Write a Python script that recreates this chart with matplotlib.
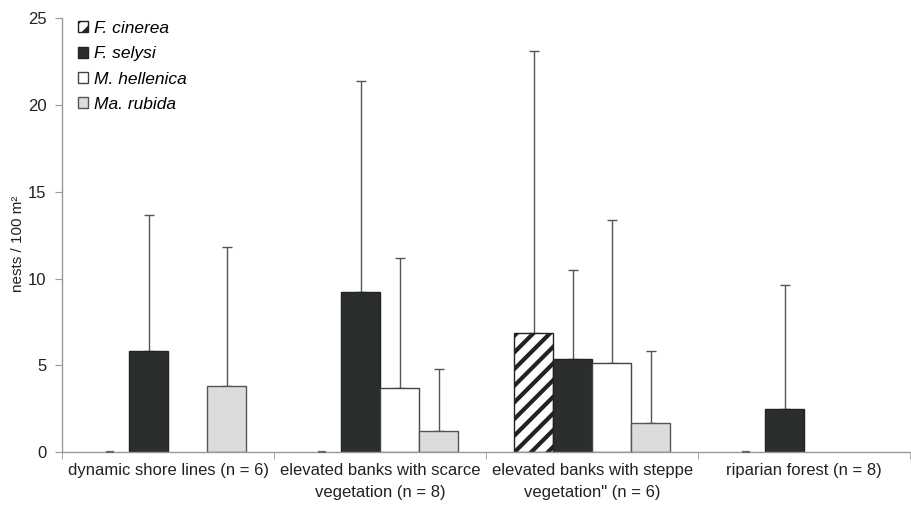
import matplotlib
matplotlib.use("Agg")
import matplotlib.pyplot as plt
import numpy as np
from matplotlib.patches import Patch

plt.rcParams['font.family'] = ['Liberation Sans', 'DejaVu Sans']
plt.rcParams['hatch.linewidth'] = 3.0

categories = ["dynamic shore lines (n = 6)",
              "elevated banks with scarce\nvegetation (n = 8)",
              "elevated banks with steppe\nvegetation\" (n = 6)",
              "riparian forest (n = 8)"]
species = ["F. cinerea", "F. selysi", "M. hellenica", "Ma. rubida"]
means = {
    "F. cinerea":   [0.0, 0.0, 6.85, 0.0],
    "F. selysi":    [5.85, 9.2, 5.35, 2.5],
    "M. hellenica": [0.0, 3.7, 5.15, 0.0],
    "Ma. rubida":   [3.8, 1.2, 1.7, 0.0],
}
upper = {
    "F. cinerea":   [0.0, 0.0, 23.1, 0.0],
    "F. selysi":    [13.65, 21.4, 10.5, 9.6],
    "M. hellenica": [0.0, 11.2, 13.4, 0.0],
    "Ma. rubida":   [11.8, 4.8, 5.8, 0.0],
}
yticks = [0, 5, 10, 15, 20, 25]

styles = {
    "F. cinerea":   dict(facecolor="white", edgecolor="#222222", hatch="//"),
    "F. selysi":    dict(facecolor="#2a2f2c", edgecolor="#222222"),
    "M. hellenica": dict(facecolor="white", edgecolor="#444444"),
    "Ma. rubida":   dict(facecolor="#dcdcdc", edgecolor="#555555"),
}

fig = plt.figure(figsize=(9.12, 5.08), dpi=100)
ax = fig.add_axes([0.068, 0.110, 0.930, 0.8543])

x = np.arange(len(categories))
w = 0.184
for i, sp in enumerate(species):
    pos = x + (i - 1.5) * w
    vals = np.array(means[sp])
    up = np.array(upper[sp])
    for p, v, u in zip(pos, vals, up):
        if v > 0:
            ax.bar(p, v, width=w, linewidth=1.0, zorder=2, **styles[sp])
            ax.errorbar(p, v, yerr=[[0], [u - v]], fmt='none', ecolor="#555555",
                        elinewidth=1.0, capsize=3.5, capthick=1.0, zorder=1)
        elif sp == "F. cinerea":
            ax.errorbar(p, v, yerr=[[0], [0]], fmt='none', ecolor="#666666",
                        elinewidth=1.0, capsize=3, capthick=1.5, zorder=3)

ax.set_xlim(-0.5, len(categories) - 0.5)
ax.set_ylim(0, 25)
ax.set_yticks(yticks)
ax.set_yticklabels([str(t) for t in yticks], fontsize=12, color="#222222")
ax.set_xticks(x)
ax.set_xticklabels(categories, fontsize=12, color="#222222", linespacing=1.55)
ax.tick_params(axis='x', length=0, pad=8)
ax.set_xticks(np.arange(len(categories) + 1) - 0.5, minor=True)
ax.tick_params(axis='x', which='minor', length=5, color="#999999", direction='out')
ax.tick_params(axis='y', length=5, color="#999999", direction='out', pad=6)

for s in ['top', 'right']:
    ax.spines[s].set_visible(False)
for s in ['left', 'bottom']:
    ax.spines[s].set_color("#999999")
    ax.spines[s].set_linewidth(1.0)

ax.set_ylabel("nests / 100 m²", fontsize=11, color="#222222")
ax.yaxis.set_label_coords(-0.044, 0.48)

handles = [Patch(linewidth=1.0, **styles[sp]) for sp in species]
leg = ax.legend(handles, species, loc='upper left', bbox_to_anchor=(0.0, 1.03),
                frameon=False, handlelength=0.6, handleheight=0.6, handletextpad=0.35,
                labelspacing=0.6, prop=dict(style='italic', size=12.5))

fig.savefig("out.png", dpi=100)
